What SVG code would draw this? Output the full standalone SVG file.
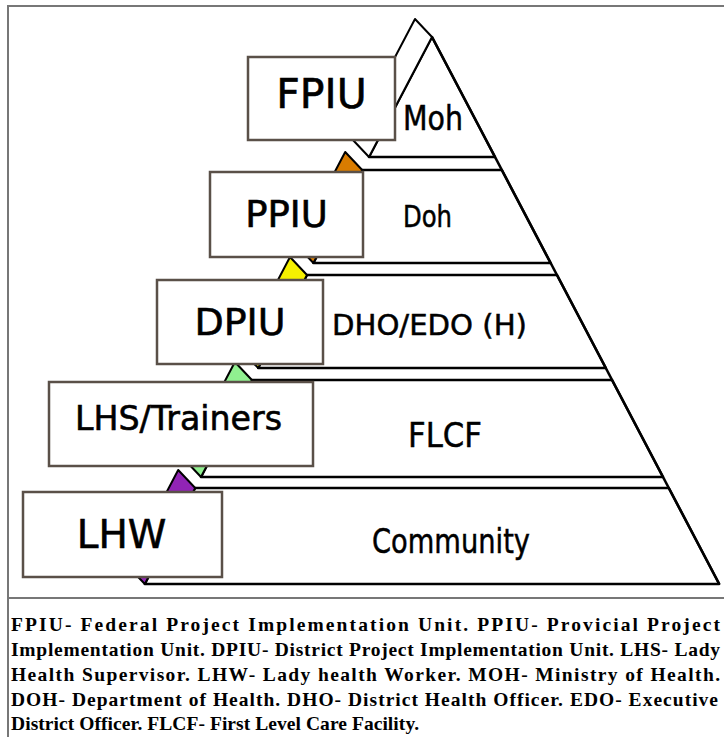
<svg xmlns="http://www.w3.org/2000/svg" width="724" height="737" viewBox="0 0 724 737">
<style>
.face{fill:#fff;stroke:#000;stroke-width:2.5;stroke-linejoin:round}
.side{stroke:#000;stroke-width:2;stroke-linejoin:round}
.box{fill:#fff;stroke:#5a5048;stroke-width:2.5}
.bl{font-family:"DejaVu Sans",sans-serif;fill:#000;stroke:#000;stroke-width:0.6;text-anchor:middle}
.ll{font-family:"DejaVu Sans",sans-serif;fill:#000;stroke:#000;stroke-width:0.5}
.cap{font-family:"Liberation Serif",serif;font-weight:bold;font-size:19.5px;fill:#000}
.frame{stroke:#777;stroke-width:2;fill:none}
</style>
<rect width="724" height="737" fill="#fff"/>
<g id="frame">
<path class="frame" d="M8,737 V6 H724"/>
<path class="frame" d="M8,598 H724"/>
</g>
<g id="level-moh">
<polygon class="face" points="432,37 495,157 369,157"/>
<polygon class="side" fill="#fff" points="432,37 369,157 352,139 415,19"/>
<text class="ll" x="403" y="130" font-size="34" textLength="60" lengthAdjust="spacingAndGlyphs">Moh</text>
</g>
<g id="level-doh">
<polygon class="face" points="362.2,170 501.8,170 550.6,263 313.4,263"/>
<polygon class="side" fill="#D97C00" points="362.2,170 313.4,263 296.4,245 345.2,152"/>
<text class="ll" x="403" y="227" font-size="30" textLength="49" lengthAdjust="spacingAndGlyphs">Doh</text>
</g>
<g id="level-dho">
<polygon class="face" points="307,275 557,275 605.8,368 258.2,368"/>
<polygon class="side" fill="#F5F000" points="307,275 258.2,368 241.2,350 290,257"/>
<text class="ll" x="332" y="335" font-size="28" textLength="195" lengthAdjust="spacingAndGlyphs">DHO/EDO (H)</text>
</g>
<g id="level-flcf">
<polygon class="face" points="251.9,380 612,380 663,477 201,477"/>
<polygon class="side" fill="#90F090" points="251.9,380 201,477 184,459 234.9,362"/>
<text class="ll" x="408" y="447" font-size="34" textLength="74" lengthAdjust="spacingAndGlyphs">FLCF</text>
</g>
<g id="level-community">
<polygon class="face" points="195.2,488 668.8,488 719.2,584 144.8,584"/>
<polygon class="side" fill="#9124B5" points="195.2,488 144.8,584 127.8,566 178.2,470"/>
<text class="ll" x="372" y="553" font-size="34" textLength="158" lengthAdjust="spacingAndGlyphs">Community</text>
</g>
<g id="edges">
<line x1="432" y1="37" x2="719.2" y2="584" stroke="#000" stroke-width="2.5"/>
</g>
<g id="fpiu">
<rect class="box" x="248" y="57" width="147" height="83"/>
<text class="bl" x="321.5" y="108" font-size="41">FPIU</text>
</g>
<g id="ppiu">
<rect class="box" x="210" y="172" width="153" height="85"/>
<text class="bl" x="286.5" y="227" font-size="37">PPIU</text>
</g>
<g id="dpiu">
<rect class="box" x="157" y="280" width="166" height="84"/>
<text class="bl" x="240" y="335" font-size="38">DPIU</text>
</g>
<g id="lhs">
<rect class="box" x="49" y="382" width="264" height="84"/>
<text class="bl" x="178.5" y="430" font-size="33" textLength="207" lengthAdjust="spacingAndGlyphs">LHS/Trainers</text>
</g>
<g id="lhw">
<rect class="box" x="23" y="492" width="199" height="85"/>
<text class="bl" x="121.5" y="548" font-size="39">LHW</text>
</g>
<g id="caption">
<text class="cap" x="11" y="631" textLength="709" lengthAdjust="spacing">FPIU- Federal Project Implementation Unit. PPIU- Provicial Project</text>
<text class="cap" x="11" y="656" textLength="709" lengthAdjust="spacing">Implementation Unit. DPIU- District Project Implementation Unit. LHS- Lady</text>
<text class="cap" x="11" y="681" textLength="709" lengthAdjust="spacing">Health Supervisor. LHW- Lady health Worker. MOH- Ministry of Health.</text>
<text class="cap" x="11" y="706" textLength="707" lengthAdjust="spacing">DOH- Department of Health. DHO- District Health Officer. EDO- Executive</text>
<text class="cap" x="11" y="730" textLength="408" lengthAdjust="spacing">District Officer. FLCF- First Level Care Facility.</text>
</g>
</svg>
